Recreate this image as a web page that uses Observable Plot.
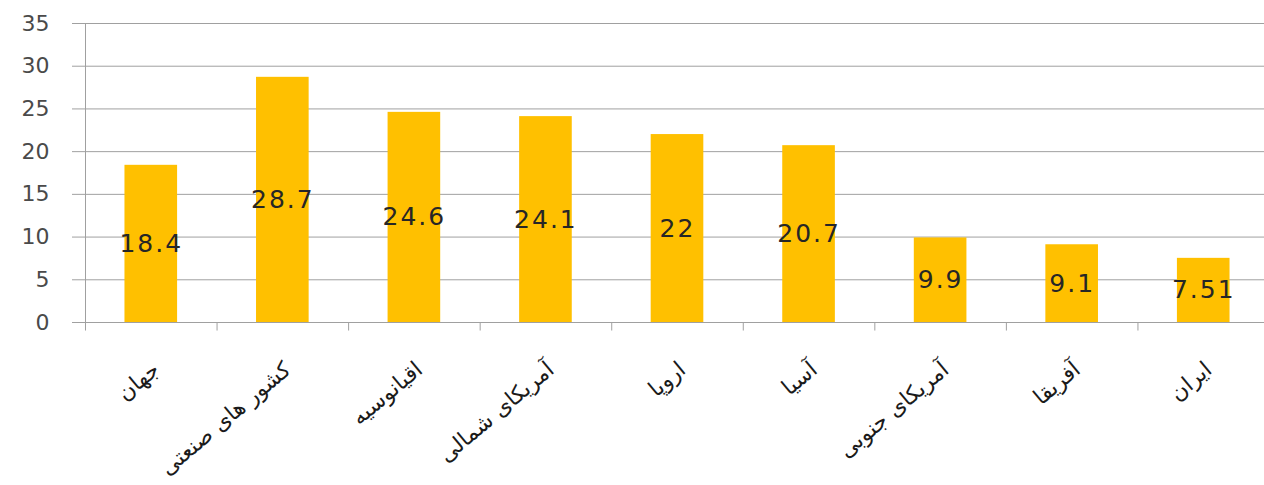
<!DOCTYPE html>
<html>
<head>
<meta charset="utf-8">
<script src="https://cdn.jsdelivr.net/npm/d3@7"></script>
<script src="https://cdn.jsdelivr.net/npm/@observablehq/plot@0.6"></script>
<style>
  html, body { margin: 0; padding: 0; background: #fff; overflow: hidden; }
  svg { font-family: "DejaVu Sans", sans-serif; overflow: visible; }
  [aria-label="y-axis tick-label"] text { letter-spacing: 2px; }
  .vlabel text { letter-spacing: 2px; }
</style>
</head>
<body>
<div id="chart"></div>
<script>
const regions = ["جهان", "کشور های صنعتی", "اقیانوسیه", "آمریکای شمالی", "اروپا", "آسیا", "آمریکای جنوبی", "آفریقا", "ایران"];
const values = [18.4, 28.7, 24.6, 24.1, 22, 20.7, 9.9, 9.1, 7.51];
const yTicks = [0, 5, 10, 15, 20, 25, 30, 35];

const data = regions.map((r, i) => ({region: r, value: values[i]}));

const W = 1264, H = 485, mL = 85, mR = -5, mT = 23, mB = 163;
const step = (W - mL - mR) / regions.length;

const chart = Plot.plot({
  width: W,
  height: H,
  marginLeft: mL,
  marginRight: mR,
  marginTop: mT,
  marginBottom: mB,
  x: {domain: regions, paddingInner: 0.6, paddingOuter: 0.3, round: false, axis: null},
  y: {domain: [0, 35], axis: null},
  marks: [
    Plot.ruleY(yTicks, {stroke: "#a0a0a0", strokeWidth: 1, insetLeft: -13}),
    Plot.axisY(yTicks, {tickSize: 0, tickPadding: 36, fontSize: 22, color: "#4a4a4a", label: null}),
    Plot.ruleX(regions.slice(0, 1), {x: d => d, dx: -step / 2, y1: -1, y2: 35, stroke: "#a0a0a0"}),
    Plot.ruleX(regions.slice(1), {x: d => d, dx: -step / 2, y1: -1, y2: 0, stroke: "#a0a0a0"}),
    Plot.barY(data, {x: "region", y: "value", fill: "#FFC000"}),
    Plot.text(data, {x: "region", y: d => d.value / 2, text: d => String(d.value), fontSize: 25, fill: "#262626", className: "vlabel"}),
    Plot.text(data, {x: "region", y: 0, text: "region", rotate: -40, textAnchor: "end", dx: 5, dy: 44, fontSize: 22, fill: "#1a1a1a"})
  ]
});
document.getElementById("chart").appendChild(chart);
</script>
</body>
</html>
